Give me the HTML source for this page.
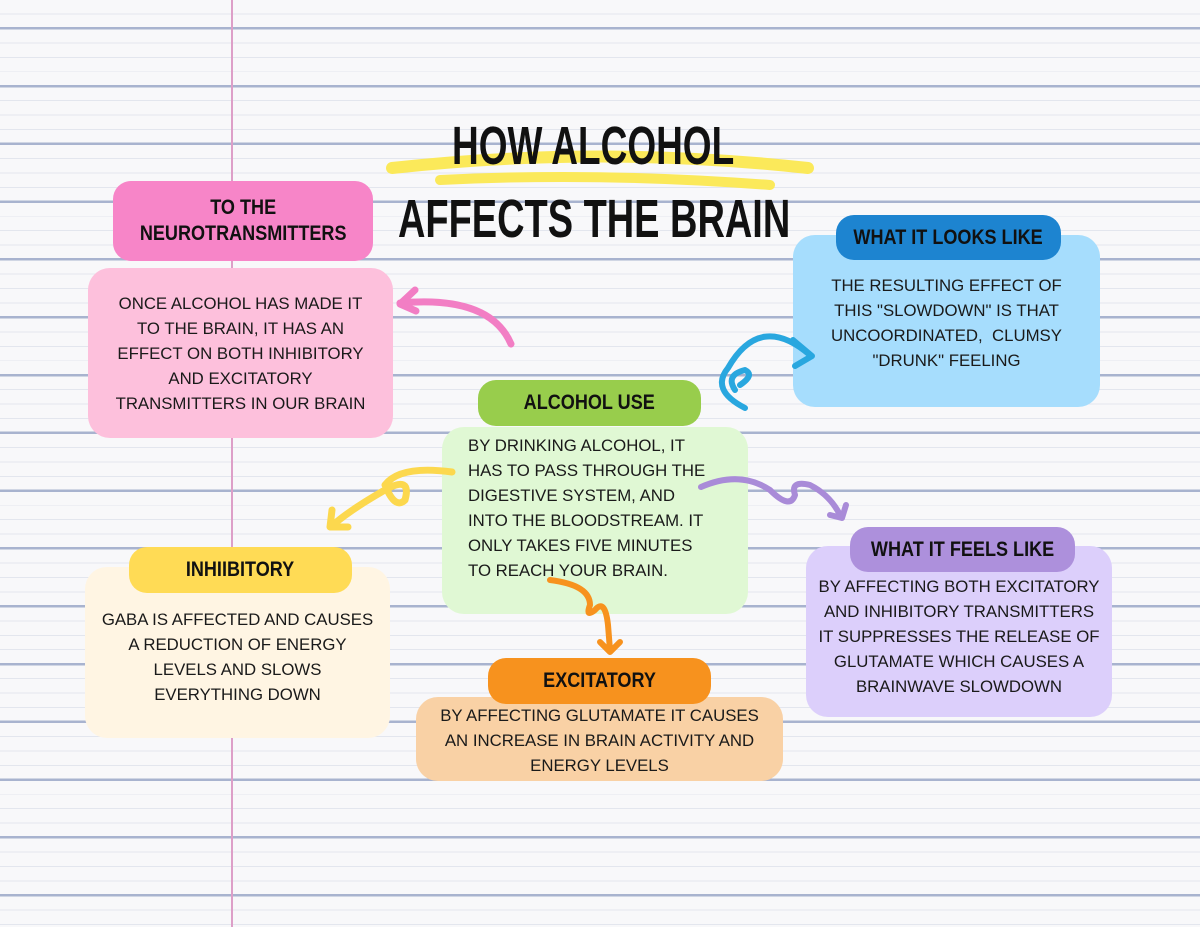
<!DOCTYPE html>
<html><head><meta charset="utf-8"><style>
*{margin:0;padding:0;box-sizing:border-box}
body{width:1200px;height:927px;overflow:hidden;position:relative;background:#f8f8fa;font-family:"Liberation Sans",sans-serif;color:#1a1a1a}
.bg{position:absolute;inset:0;background:
repeating-linear-gradient(to bottom,transparent 0 27px,#a8b3cf 27px 29.5px,transparent 29.5px 57.8px),
repeating-linear-gradient(to bottom,transparent 0 13.45px,#e3e6ee 13.45px 14.45px);}
.margin{position:absolute;left:231px;top:0;width:2px;height:927px;background:#dd9fc8}
.b{position:absolute;border-radius:22px;text-align:center;font-size:16.8px;line-height:25px}
.h{position:absolute;border-radius:18px;text-align:center;font-weight:bold;font-size:21px;color:#111;display:flex;align-items:center;justify-content:center;line-height:26px}
.h span{display:inline-block;transform:scaleX(0.86);white-space:nowrap}
.t{position:absolute;font-weight:bold;color:#111;white-space:nowrap;line-height:1;transform-origin:0 0}
</style></head><body>
<div class="bg"></div>
<div class="margin"></div>
<svg style="position:absolute;left:0;top:0" width="1200" height="927">
<path d="M392 168 Q600 145 808 168" stroke="#fbe95a" stroke-width="12" fill="none" stroke-linecap="round"/>
<path d="M440 180 Q600 172 770 185" stroke="#fbe95a" stroke-width="10" fill="none" stroke-linecap="round"/>
</svg>
<div class="t" style="left:452px;top:119px;font-size:54px;transform:scaleX(0.685)">HOW ALCOHOL</div>
<div class="t" style="left:398px;top:192px;font-size:54px;transform:scaleX(0.703)">AFFECTS THE BRAIN</div>

<div class="b" style="left:88px;top:268px;width:305px;height:170px;background:#fdc0dc;padding-top:23px">ONCE ALCOHOL HAS MADE IT<br>TO THE BRAIN, IT HAS AN<br>EFFECT ON BOTH INHIBITORY<br>AND EXCITATORY<br>TRANSMITTERS IN OUR BRAIN</div>
<div class="h" style="left:113px;top:181px;width:260px;height:80px;background:#f785c8"><span>TO THE<br>NEUROTRANSMITTERS</span></div>

<div class="b" style="left:793px;top:235px;width:307px;height:172px;background:#a6ddfd;padding-top:38px">THE RESULTING EFFECT OF<br>THIS "SLOWDOWN" IS THAT<br>UNCOORDINATED,&nbsp; CLUMSY<br>"DRUNK" FEELING</div>
<div class="h" style="left:836px;top:215px;width:225px;height:45px;background:#1d84d0"><span>WHAT IT LOOKS LIKE</span></div>

<div class="b" style="left:442px;top:427px;width:306px;height:187px;background:#e0f8d4;text-align:left;padding:6px 0 0 26px">BY DRINKING ALCOHOL, IT<br>HAS TO PASS THROUGH THE<br>DIGESTIVE SYSTEM, AND<br>INTO THE BLOODSTREAM. IT<br>ONLY TAKES FIVE MINUTES<br>TO REACH YOUR BRAIN.</div>
<div class="h" style="left:478px;top:380px;width:223px;height:46px;background:#98cd4c"><span>ALCOHOL USE</span></div>

<div class="b" style="left:806px;top:546px;width:306px;height:171px;background:#dccffb;padding-top:28px">BY AFFECTING BOTH EXCITATORY<br>AND INHIBITORY TRANSMITTERS<br>IT SUPPRESSES THE RELEASE OF<br>GLUTAMATE WHICH CAUSES A<br>BRAINWAVE SLOWDOWN</div>
<div class="h" style="left:850px;top:527px;width:225px;height:45px;background:#ad90dc"><span>WHAT IT FEELS LIKE</span></div>

<div class="b" style="left:85px;top:567px;width:305px;height:171px;background:#fff5e3;padding-top:40px">GABA IS AFFECTED AND CAUSES<br>A REDUCTION OF ENERGY<br>LEVELS AND SLOWS<br>EVERYTHING DOWN</div>
<div class="h" style="left:129px;top:547px;width:223px;height:46px;background:#ffdb55"><span>INHIIBITORY</span></div>

<div class="b" style="left:416px;top:697px;width:367px;height:84px;background:#f9d1a5;padding-top:6px">BY AFFECTING GLUTAMATE IT CAUSES<br>AN INCREASE IN BRAIN ACTIVITY AND<br>ENERGY LEVELS</div>
<div class="h" style="left:488px;top:658px;width:223px;height:46px;background:#f7921e"><span>EXCITATORY</span></div>

<svg style="position:absolute;left:0;top:0" width="1200" height="927" fill="none" stroke-linecap="round" stroke-linejoin="round">
<path d="M511 344 Q490 295 400 303" stroke="#f27ec4" stroke-width="7"/>
<path d="M415 290 L400 304 L416 311" stroke="#f27ec4" stroke-width="7"/>
<path d="M745 408 Q710 390 728 368 Q760 312 810 355 M740 385 Q755 375 745 370 Q725 375 735 390" stroke="#29a7df" stroke-width="6"/>
<path d="M793 340 L812 356 L795 366" stroke="#29a7df" stroke-width="6"/>
<path d="M452 472 Q400 465 385 485 Q395 510 405 500 Q412 475 385 490 Q350 510 333 525" stroke="#fcd84e" stroke-width="7"/>
<path d="M332 510 L330 527 L348 527" stroke="#fcd84e" stroke-width="7"/>
<path d="M701 487 Q740 470 770 490 Q790 510 795 495 Q790 480 810 485 Q830 495 840 515" stroke="#a98bd8" stroke-width="6"/>
<path d="M830 515 L842 518 L846 505" stroke="#a98bd8" stroke-width="6"/>
<path d="M550 580 Q590 585 590 605 Q585 618 595 610 Q605 598 608 625 L610 650" stroke="#f7921e" stroke-width="6"/>
<path d="M600 642 L610 652 L620 642" stroke="#f7921e" stroke-width="6"/>
</svg>
</body></html>
